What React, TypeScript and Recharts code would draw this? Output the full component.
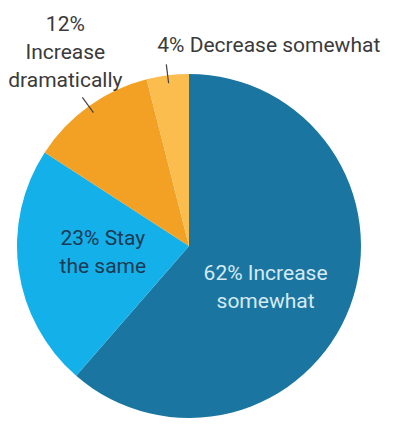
import { PieChart, Pie, Cell } from 'recharts';

// slices, clockwise from 12 o'clock
const categories = ['Increase somewhat', 'Stay the same', 'Increase dramatically', 'Decrease somewhat'];
const shares = [62, 23, 12, 4];
const labelLines = [
  ['62% Increase', 'somewhat'],
  ['23% Stay', 'the same'],
  ['12%', 'Increase', 'dramatically'],
  ['4% Decrease somewhat'],
];

const COLORS = ['#1a76a1', '#14b0ea', '#f2a124', '#fbbd4d'];
const TEXT_COLORS = ['#d6eaf4', '#1b3a52', '#3a3a3a', '#3a3a3a'];
const FONT = 'Roboto, "DejaVu Sans", sans-serif';
const FONT_SIZE = 21;
const LINE_H = 28;

const data = categories.map((name, i) => ({ name, value: shares[i] }));

const RAD = Math.PI / 180;

function renderLabel(props: any) {
  const { cx, cy, midAngle, outerRadius, index } = props;
  const cos = Math.cos(-midAngle * RAD);
  const sin = Math.sin(-midAngle * RAD);
  const lines: string[] = labelLines[index];
  const color = TEXT_COLORS[index];

  if (index < 2) {
    // inside labels
    const r = outerRadius * 0.5;
    const x = cx + r * cos + (index === 0 ? -4 : -1);
    const y = cy + r * sin + (index === 0 ? 4 : -13);
    return (
      <text x={x} y={y} textAnchor="middle" fill={color} fontFamily={FONT} fontSize={FONT_SIZE}>
        {lines.map((l, i) => (
          <tspan key={i} x={x} dy={i === 0 ? 0 : LINE_H}>{l}</tspan>
        ))}
      </text>
    );
  }

  // outside labels with a short leader line
  const sx = cx + (outerRadius - 8) * cos;
  const sy = cy + (outerRadius - 8) * sin;
  const ex = cx + (outerRadius + 11) * cos;
  const ey = cy + (outerRadius + 11) * sin;
  const isLeft = index === 2;
  const tx = isLeft ? ex - 17 : ex - 9;
  const lastBase = isLeft ? ey - 10 : ey - 12;
  const firstBase = lastBase - (lines.length - 1) * LINE_H;
  return (
    <g>
      <line x1={sx} y1={sy} x2={ex} y2={ey} stroke="#444" strokeWidth={1.2} />
      <text x={tx} y={firstBase} textAnchor={isLeft ? 'middle' : 'start'} fill={color} fontFamily={FONT} fontSize={FONT_SIZE}>
        {lines.map((l, i) => (
          <tspan key={i} x={tx} dy={i === 0 ? 0 : LINE_H}>{l}</tspan>
        ))}
      </text>
    </g>
  );
}

export default function App() {
  return (
    <div style={{ position: 'absolute', left: 0, top: 0, background: '#fff' }}>
      <PieChart width={400} height={429} margin={{ top: 0, right: 0, bottom: 0, left: 0 }}>
        <Pie
          data={data}
          dataKey="value"
          nameKey="name"
          cx={189}
          cy={246}
          outerRadius={172}
          startAngle={90}
          endAngle={-270}
          stroke="none"
          labelLine={false}
          label={renderLabel}
          isAnimationActive={false}
        >
          {data.map((d, i) => (
            <Cell key={d.name} fill={COLORS[i]} />
          ))}
        </Pie>
      </PieChart>
    </div>
  );
}
